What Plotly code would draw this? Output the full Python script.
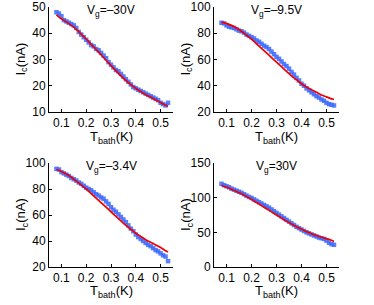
import plotly.graph_objects as go

# ---- data ----
t_data = [0.08, 0.09, 0.10, 0.11, 0.12, 0.13, 0.14, 0.15, 0.16, 0.17, 0.18, 0.19,
          0.20, 0.21, 0.22, 0.23, 0.24, 0.25, 0.26, 0.27, 0.28, 0.29, 0.30, 0.31,
          0.32, 0.33, 0.34, 0.35, 0.36, 0.37, 0.38, 0.39, 0.40, 0.41, 0.42, 0.43,
          0.44, 0.45, 0.46, 0.47, 0.48, 0.49, 0.50, 0.51, 0.52, 0.53]
t_fit = [0.08, 0.10, 0.12, 0.14, 0.16, 0.18, 0.20, 0.22, 0.24, 0.26, 0.28, 0.30,
         0.32, 0.34, 0.36, 0.38, 0.40, 0.42, 0.44, 0.46, 0.48, 0.50, 0.52, 0.53]

ic_m30 = [48, 47.5, 46.5, 45, 44.5, 44, 43.5, 43, 42, 40.5, 39.5, 38.5, 37.5, 36.5,
          35.5, 35, 34, 33.5, 32.5, 31.5, 30.5, 29, 28, 27, 26, 25.5, 24.5, 23.5,
          22.5, 21.5, 20.5, 19.5, 19, 18.5, 18, 17.5, 17, 16.5, 16, 15.5, 15, 14.5,
          13.5, 13, 12.5, 13.5]
fit_m30 = [47, 45.5, 44.3, 43, 41.5, 39.7, 37.8, 35.8, 33.8, 31.8, 29.7, 27.7,
           25.7, 23.8, 22, 20.4, 19, 17.7, 16.6, 15.6, 14.6, 13.6, 12.6, 12.2]

ic_m95 = [88, 87.5, 86, 85, 84.5, 84, 83, 82, 81.5, 80.5, 79, 78, 77, 76, 74.5,
          73.5, 72, 70.5, 69.5, 68, 66, 64, 62, 60.5, 58.5, 56.5, 55, 53, 50.5,
          48.5, 46, 44, 41.5, 40, 38, 36.5, 35, 33.5, 32, 31, 29.5, 28.5, 27, 26,
          25.5, 25]
fit_m95 = [88.5, 87.5, 86, 84, 81.5, 78.5, 75.5, 72, 68.5, 65, 61.5, 58, 54.5, 51,
           47.5, 44.5, 41.5, 39, 37, 35, 33, 31.5, 30, 29.5]

ic_m34 = [95.5, 95, 93, 92, 91, 90, 88.5, 87.5, 86.5, 85, 84, 82.5, 81, 80, 79,
          77.5, 76, 75, 73.5, 72.5, 70.5, 68.5, 66, 64, 62.5, 60.5, 58.5, 56.5,
          54.5, 52, 49.5, 47.5, 45, 43, 41.5, 40, 38.5, 37, 36, 34.5, 33, 32, 30.5,
          29, 28, 24.5]
fit_m34 = [95, 93.5, 91.5, 89, 86, 83, 80, 76.5, 73, 69.5, 66, 62.5, 59, 55.5, 52,
           49, 46, 43.5, 41, 39, 37, 35, 32.5, 31.5]

ic_p30 = [120, 118, 116.5, 115, 113, 111.5, 110, 108.5, 107, 105, 103, 101, 99.5,
          97.5, 95.5, 93.5, 91.5, 89.5, 87.5, 85.5, 83, 80.5, 78, 75.5, 73, 70.5,
          68, 65.5, 63, 60.5, 58, 56, 54, 52, 50, 48.5, 47, 45.5, 44, 42.5, 41.5,
          40.5, 38, 35, 33, 32]
fit_p30 = [117.5, 115, 112, 109, 105.5, 101.5, 97.5, 93, 88.5, 84, 79.5, 75, 70.5,
           66, 62, 58, 54.5, 51, 48, 45.5, 43, 41, 38.5, 37]

titles = ["V<sub>g</sub>=–30V", "V<sub>g</sub>=–9.5V", "V<sub>g</sub>=–3.4V", "V<sub>g</sub>=30V"]
x_ticks = [0.1, 0.2, 0.3, 0.4, 0.5]
y_ranges = [[10, 50], [20, 100], [20, 100], [0, 150]]
y_ticks = [[10, 20, 30, 40, 50], [20, 40, 60, 80, 100], [20, 40, 60, 80, 100], [0, 50, 100, 150]]

data_sets = [(ic_m30, fit_m30), (ic_m95, fit_m95), (ic_m34, fit_m34), (ic_p30, fit_p30)]

W, H = 374, 305
# panel pixel boxes: (left, right, top, bottom)
boxes = [(49, 173, 7, 112), (214, 339, 7, 112), (49, 173, 163, 267), (214, 339, 163, 267)]
xtitle_gap = [26, 26, 24, 24]

fig = go.Figure()
FONT = "Liberation Sans, Arial, Helvetica, sans-serif"
BLUE = "rgba(60,105,252,0.85)"
RED = "rgb(240,0,0)"


def px(v):
    return v / W


def py(v):
    return 1 - v / H


annotations = []
for i, ((ic, fit), box) in enumerate(zip(data_sets, boxes)):
    n = i + 1
    xa = "x" if n == 1 else f"x{n}"
    ya = "y" if n == 1 else f"y{n}"
    fig.add_trace(go.Scatter(x=t_data, y=ic, mode="markers", xaxis=xa, yaxis=ya,
                             marker=dict(symbol="square", size=4.5, color=BLUE, line=dict(width=0)),
                             showlegend=False, cliponaxis=False))
    fig.add_trace(go.Scatter(x=t_fit, y=fit, mode="lines", xaxis=xa, yaxis=ya,
                             line=dict(color=RED, width=1.7, shape="spline"),
                             showlegend=False))
    l, r, t, b = box
    dx = [px(l), px(r)]
    dy = [py(b), py(t)]
    xkey = "xaxis" if n == 1 else f"xaxis{n}"
    ykey = "yaxis" if n == 1 else f"yaxis{n}"
    fig.update_layout(**{
        xkey: dict(domain=dx, range=[0.05, 0.55], tickvals=x_ticks,
                   ticktext=[str(v) for v in x_ticks], anchor=ya, automargin=False,
                   showline=True, linecolor="black", linewidth=1, mirror=False,
                   ticks="inside", ticklen=3, tickcolor="black", showgrid=False,
                   zeroline=False, tickfont=dict(size=12, color="black", family=FONT)),
        ykey: dict(domain=dy, range=y_ranges[i], tickvals=y_ticks[i], anchor=xa,
                   automargin=False,
                   showline=True, linecolor="black", linewidth=1, mirror=False,
                   ticks="inside", ticklen=3, tickcolor="black", showgrid=False,
                   zeroline=False, tickfont=dict(size=12, color="black", family=FONT)),
    })
    cx = px((l + r) / 2)
    annotations.append(dict(text=titles[i], x=cx, y=py(t - 6), xref="paper", yref="paper",
                            xanchor="center", yanchor="top", showarrow=False,
                            font=dict(size=12, color="black", family=FONT)))
    annotations.append(dict(text="T<sub>bath</sub>(K)", x=cx, y=py(b + xtitle_gap[i]),
                            xref="paper", yref="paper", xanchor="center", yanchor="middle",
                            showarrow=False, font=dict(size=13, color="black", family=FONT)))
    annotations.append(dict(text="I<sub>c</sub>(nA)", x=px(l - 28), y=py((t + b) / 2),
                            xref="paper", yref="paper", xanchor="center", yanchor="middle",
                            textangle=-90, showarrow=False,
                            font=dict(size=13, color="black", family=FONT)))

fig.update_layout(width=W, height=H, margin=dict(l=0, r=0, t=0, b=0, autoexpand=False),
                  paper_bgcolor="white", plot_bgcolor="white",
                  annotations=annotations)
# remove the browser's default 8px body margin so the figure sits at the page origin
fig.write_html("out.html",
               config={"displayModeBar": False, "staticPlot": True},
               post_script="document.body.style.margin='0';document.body.style.overflow='hidden';")
